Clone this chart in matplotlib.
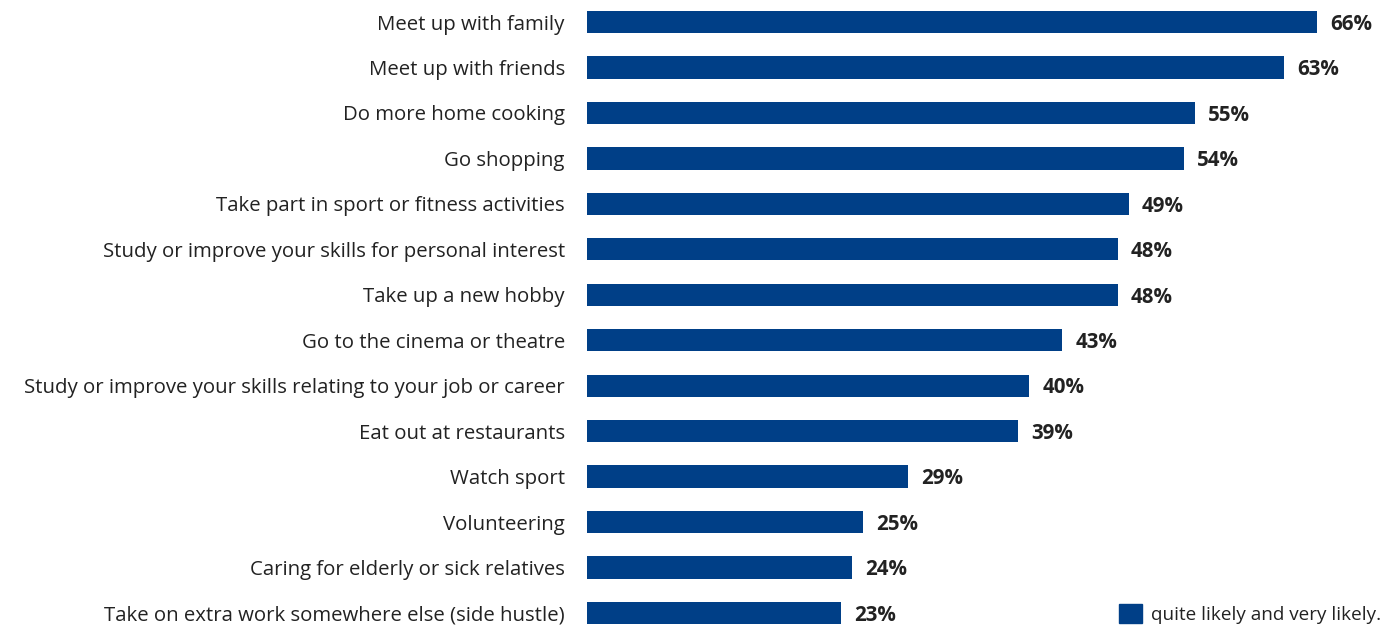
import matplotlib.pyplot as plt
from matplotlib.patches import Patch

activities = [
    "Meet up with family",
    "Meet up with friends",
    "Do more home cooking",
    "Go shopping",
    "Take part in sport or fitness activities",
    "Study or improve your skills for personal interest",
    "Take up a new hobby",
    "Go to the cinema or theatre",
    "Study or improve your skills relating to your job or career",
    "Eat out at restaurants",
    "Watch sport",
    "Volunteering",
    "Caring for elderly or sick relatives",
    "Take on extra work somewhere else (side hustle)",
]
likely_pct = [66, 63, 55, 54, 49, 48, 48, 43, 40, 39, 29, 25, 24, 23]
legend_label = "quite likely and very likely."

bar_color = "#003f87"
text_color = "#222222"
plt.rcParams['font.family'] = ['Open Sans', 'DejaVu Sans']

fig = plt.figure(figsize=(13.83, 6.26), dpi=100)
ax = fig.add_axes([587 / 1383, 0, 796 / 1383, 1])

ypos = list(range(len(activities)))
ax.barh(ypos, likely_pct, height=0.49, color=bar_color)
ax.set_xlim(0, 72)
ax.set_ylim(13.286, -0.484)

# value labels to the right of each bar
for y, v in zip(ypos, likely_pct):
    ax.text(v + 1.2, y + 0.05, f"{v}%", va='center', ha='left', fontsize=14.8,
            fontweight='bold', color=text_color)

ax.set_yticks(ypos)
ax.set_yticklabels(activities, fontsize=14.7, color=text_color)
ax.tick_params(axis='y', length=0, pad=16)
ax.set_xticks([])
for s in ax.spines.values():
    s.set_visible(False)

ax.legend(handles=[Patch(color=bar_color)], labels=[legend_label],
          loc='lower right', bbox_to_anchor=(1.0, 0.0), frameon=False,
          fontsize=13.6, handlelength=1.2, handleheight=1.2, handletextpad=0.5,
          borderaxespad=0.0, borderpad=0.1, labelcolor=text_color)

fig.savefig("out.png", dpi=100)
